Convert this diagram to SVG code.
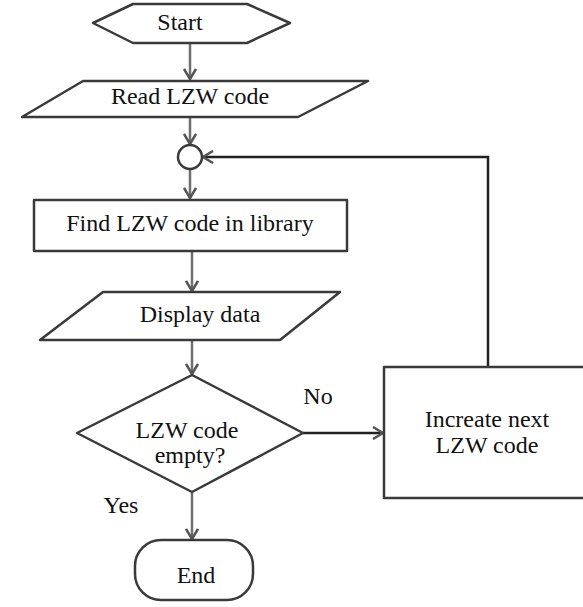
<svg xmlns="http://www.w3.org/2000/svg" width="583" height="607" viewBox="0 0 583 607">
<defs>
<style>
.shape{fill:#fff;stroke:#3a3a3a;stroke-width:2.5;stroke-linejoin:round}
.edge{fill:none;stroke:#6e6e6e;stroke-width:2.5}
.loop{fill:none;stroke:#222;stroke-width:2.5}
.t{font-family:"Liberation Serif","Times New Roman",serif;font-size:24px;fill:#111;text-anchor:middle}
</style>
<marker id="arr" markerWidth="14" markerHeight="14" refX="11" refY="7" orient="auto" markerUnits="userSpaceOnUse">
<path d="M1,1 L11,7 L1,13" fill="none" stroke="#555" stroke-width="2.5"/>
</marker>
</defs>
<g id="connectors">
<line class="edge" x1="190" y1="44" x2="190" y2="79" marker-end="url(#arr)"/>
<line class="edge" x1="190" y1="118" x2="190" y2="144" marker-end="url(#arr)"/>
<line class="edge" x1="190" y1="169" x2="190" y2="198" marker-end="url(#arr)"/>
<line class="edge" x1="192" y1="252" x2="192" y2="291" marker-end="url(#arr)"/>
<line class="edge" x1="192" y1="341" x2="192" y2="374" marker-end="url(#arr)"/>
<line class="edge" x1="192" y1="493" x2="192" y2="539" marker-end="url(#arr)"/>
<line class="loop" x1="303" y1="433" x2="383" y2="433" marker-end="url(#arr)"/>
<polyline class="loop" points="488,367 488,157 203,157" marker-end="url(#arr)"/>
</g>
<g id="start">
<polygon class="shape" points="133,4 247,4 290,23 247,43 133,43 93,23"/>
<text class="t" x="180" y="30">Start</text>
</g>
<g id="read">
<polygon class="shape" points="83,81 368,81 298,117 22,117"/>
<text class="t" x="190" y="104">Read LZW code</text>
</g>
<g id="merge">
<circle class="shape" cx="190" cy="157" r="12"/>
</g>
<g id="find">
<rect class="shape" x="34" y="200" width="313" height="51"/>
<text class="t" x="190" y="231">Find LZW code in library</text>
</g>
<g id="display">
<polygon class="shape" points="103,292 340,292 280,340 40,340"/>
<text class="t" x="200" y="322">Display data</text>
</g>
<g id="decision">
<polygon class="shape" points="192,375 303,433 192,492 77,433"/>
<text class="t" x="187" y="438">LZW code</text>
<text class="t" x="190" y="463">empty?</text>
</g>
<g id="increase">
<rect class="shape" x="384" y="367" width="210" height="131"/>
<text class="t" x="487" y="427">Increate next</text>
<text class="t" x="487" y="453">LZW code</text>
</g>
<g id="end">
<rect class="shape" x="135" y="540" width="118" height="60" rx="26" ry="26"/>
<text class="t" x="196" y="583">End</text>
</g>
<g id="labels">
<text class="t" x="318" y="404">No</text>
<text class="t" x="121" y="513">Yes</text>
</g>
</svg>
